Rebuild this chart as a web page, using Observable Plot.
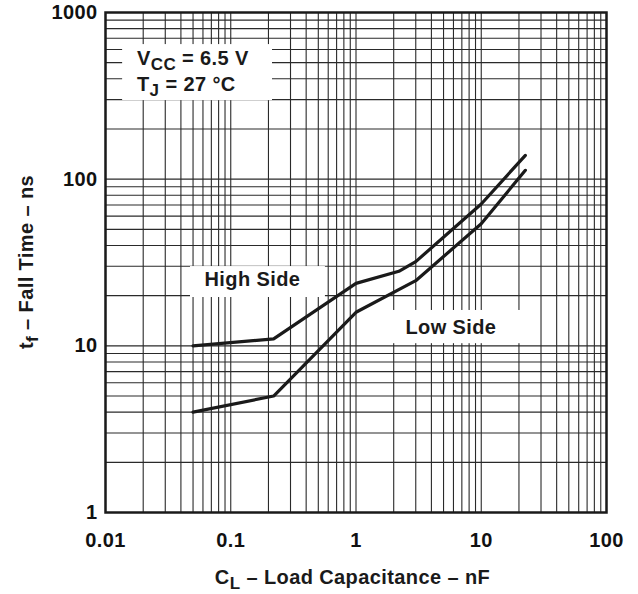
<!DOCTYPE html>
<html>
<head>
<meta charset="utf-8">
<script src="https://cdn.jsdelivr.net/npm/d3@7"></script>
<script src="https://cdn.jsdelivr.net/npm/@observablehq/plot@0.6"></script>
<style>
  body { margin: 0; background: #fff; }
  #chart svg { font-family: "Liberation Sans", Arial, Helvetica, sans-serif; }
  #chart svg text { letter-spacing: 0.4px; }
</style>
</head>
<body>
<div id="chart"></div>
<script>
// ---- data ----
const highSideCap  = [0.05, 0.22, 1, 2.2, 3, 10, 22.5];
const highSideTime = [10, 11, 23.7, 28, 32, 71, 139];
const lowSideCap   = [0.05, 0.22, 1, 3, 10, 22.5];
const lowSideTime  = [4, 5, 15.9, 24.6, 54, 113];

const xDomain = [0.01, 100];
const yDomain = [1, 1000];
const xTickValues = [0.01, 0.1, 1, 10, 100];
const xTickLabels = ["0.01", "0.1", "1", "10", "100"];
const yTickValues = [1, 10, 100, 1000];
const yTickLabels = ["1", "10", "100", "1000"];

// annotation boxes (data coordinates)
const boxNames = ["conditions", "high", "low"];
const boxX1 = [0.0137, 0.0477, 1.96];
const boxX2 = [0.2155, 0.57, 23.8];
const boxY1 = [296, 19.5, 10.3];
const boxY2 = [642, 29.9, 16.3];

const seriesLabels = ["High Side", "Low Side"];
const seriesLabelX = [0.0617, 2.48];
const seriesLabelY = [24.9, 12.9];

// ---- build ----
const curves = [
  ...highSideCap.map((c, i) => ({series: "High Side", cap: c, time: highSideTime[i]})),
  ...lowSideCap.map((c, i) => ({series: "Low Side", cap: c, time: lowSideTime[i]}))
];
const boxes = boxNames.map((n, i) => ({name: n, x1: boxX1[i], x2: boxX2[i], y1: boxY1[i], y2: boxY2[i]}));
const labels = seriesLabels.map((t, i) => ({text: t, x: seriesLabelX[i], y: seriesLabelY[i]}));

const xGrid = d3.scaleLog().domain(xDomain).ticks();
const yGrid = d3.scaleLog().domain(yDomain).ticks();

const plot = Plot.plot({
  width: 638,
  height: 594,
  marginLeft: 105,
  marginRight: 32,
  marginTop: 12,
  marginBottom: 82,
  style: {fontFamily: '"Liberation Sans", Arial, sans-serif', fontSize: "20px", fontWeight: "bold", color: "#111", background: "#fff"},
  x: {type: "log", domain: xDomain},
  y: {type: "log", domain: yDomain},
  marks: [
    Plot.ruleX(xGrid, {stroke: "#2a2a2a", strokeWidth: 1.1}),
    Plot.ruleY(yGrid, {stroke: "#2a2a2a", strokeWidth: 1.1}),
    Plot.rect(boxes, {x1: "x1", x2: "x2", y1: "y1", y2: "y2", fill: "white"}),
    Plot.frame({stroke: "#1a1a1a", strokeWidth: 2.5}),
    Plot.line(curves, {x: "cap", y: "time", z: "series", stroke: "#1a1a1a", strokeWidth: 3.2, strokeLinejoin: "miter"}),
    Plot.text(labels, {x: "x", y: "y", text: "text", textAnchor: "start", fontSize: 20, fontWeight: "bold", fill: "#1a1a1a"}),
    Plot.axisX({ticks: xTickValues, tickSize: 0, tickPadding: 20, tickFormat: (d) => xTickLabels[xTickValues.indexOf(d)], fontSize: 20, fontWeight: "bold", label: null}),
    Plot.axisY({ticks: yTickValues, tickSize: 0, tickPadding: 8, tickFormat: (d) => yTickLabels[yTickValues.indexOf(d)], fontSize: 20, fontWeight: "bold", label: null})
  ]
});

document.getElementById("chart").appendChild(plot);

// ---- rich text with subscripts ----
const sx = plot.scale("x"), sy = plot.scale("y");
const svg = d3.select(plot);
const g = svg.append("g").attr("fill", "#1a1a1a").attr("font-weight", "bold").attr("font-size", 20);

function richText(parent, parts) {
  let shifted = false;
  parts.forEach(([txt, sub]) => {
    const ts = parent.append("tspan").text(txt);
    if (sub) { ts.attr("font-size", 17).attr("dy", 5); shifted = true; }
    else if (shifted) { ts.attr("dy", -5); shifted = false; }
  });
}

// conditions
const condX = sx.apply(0.018);
const t1 = g.append("text").attr("text-anchor", "start").attr("x", condX).attr("y", sy.apply(480));
richText(t1, [["V"], ["CC", true], [" = 6.5 V"]]);
const t2 = g.append("text").attr("text-anchor", "start").attr("x", condX).attr("y", sy.apply(337));
richText(t2, [["T"], ["J", true], [" = 27 °C"]]);

// x axis title
const xt = g.append("text").attr("text-anchor", "middle")
  .attr("x", (sx.range[0] + sx.range[1]) / 2 - 3).attr("y", 584);
richText(xt, [["C"], ["L", true], [" – Load Capacitance – nF"]]);

// y axis title
const yt = g.append("text").attr("text-anchor", "middle")
  .attr("transform", `translate(33,${(sy.range[0] + sy.range[1]) / 2}) rotate(-90)`);
richText(yt, [["t"], ["f", true], [" – Fall Time – ns"]]);
</script>
</body>
</html>
